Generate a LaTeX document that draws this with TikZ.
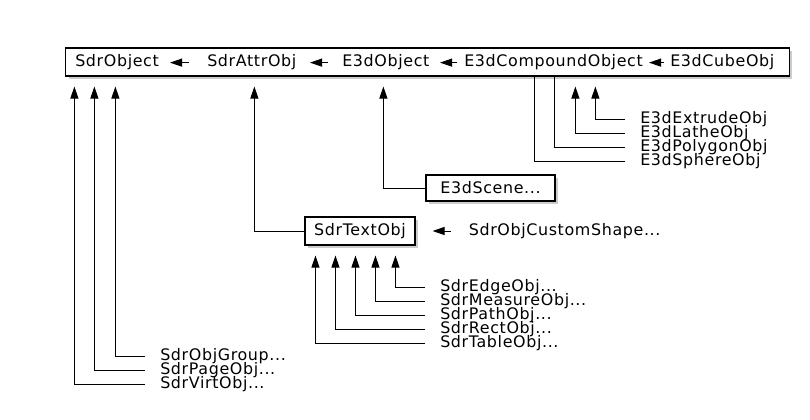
\documentclass[tikz,border=0pt]{standalone}
\usepackage{fontspec}
\setmainfont{DejaVu Sans}[LetterSpace=4]
\usetikzlibrary{arrows.meta,positioning,calc,shadows}

\begin{document}
\begin{tikzpicture}[
  x=0.025cm, y=-0.025cm,
  font=\fontsize{11.3}{13}\selectfont,
  classbox/.style={rectangle, draw=black, line width=0.75pt, fill=white, inner sep=0pt, drop shadow={shadow xshift=0.07cm, shadow yshift=-0.07cm, fill=black!40, opacity=0.5}},
  cname/.style={anchor=base west, inner sep=0pt},
  leaf/.style={anchor=west, inner xsep=0.375cm, inner ysep=0pt},
  inherit/.style={-{Triangle[length=0.3cm, width=0.2cm]}, line width=0.7pt, shorten >=0.25cm},
  lefttip/.style={-{Triangle[length=0.3cm, width=0.2cm]}, line width=0.7pt},
  link/.style={line width=0.7pt}
]
\useasboundingbox (0,0) rectangle (810,420);

\node[classbox, minimum width=18.075cm, minimum height=0.7cm] (topbar) at (427.5,62) {};
\node[cname] (sdrobj) at (75,67) {SdrObject};
\node[cname] (attr) at (207,67) {SdrAttrObj};
\node[cname] (e3dobj) at (342,67) {E3dObject};
\node[cname] (compound) at (464,67) {E3dCompoundObject};
\node[cname] (cube) at (670,67) {E3dCubeObj};
\draw[lefttip] ($(attr.west)+(-18,0)$) -- ($(attr.west)+(-37,0)$);
\draw[lefttip] ($(e3dobj.west)+(-14,0)$) -- ($(e3dobj.west)+(-32,0)$);
\draw[lefttip] ($(compound.west)+(-7,0)$) -- ($(compound.west)+(-24,0)$);
\draw[lefttip] ($(cube.west)+(-6,0)$) -- ($(cube.west)+(-21,0)$);

\node[leaf] (extrude) at (625,119) {E3dExtrudeObj};
\node[leaf] (lathe) at (625,133) {E3dLatheObj};
\node[leaf] (polygon) at (625,147) {E3dPolygonObj};
\node[leaf] (sphere) at (625,161) {E3dSphereObj};
\draw[inherit] (extrude.west) -| ($(topbar.south west)+(530,0)$);
\draw[inherit] (lathe.west) -| ($(topbar.south west)+(510,0)$);
\draw[link] (polygon.west) -| ($(topbar.south west)+(489,0)$);
\draw[link] (sphere.west) -| ($(topbar.south west)+(469,0)$);

\node[classbox, minimum width=3.225cm, minimum height=0.65cm] (scene) at (490.5,188) {E3dScene...};
\draw[inherit] (scene.west) -| ($(topbar.south west)+(318,0)$);

\node[classbox, minimum width=2.75cm, minimum height=0.7cm] (textobj) at (360,231) {SdrTextObj};
\node[anchor=west, inner sep=0pt, right=1.325cm of textobj.east] (custom) {SdrObjCustomShape...};
\draw[inherit] (textobj.west) -| ($(topbar.south west)+(189,0)$);
\draw[lefttip, shorten <=0.45cm, shorten >=0.425cm] (custom.west) -- (textobj.east);

\node[leaf] (edge) at (425,287) {SdrEdgeObj...};
\node[leaf] (measure) at (425,301) {SdrMeasureObj...};
\node[leaf] (path) at (425,315) {SdrPathObj...};
\node[leaf] (rect) at (425,329) {SdrRectObj...};
\node[leaf] (table) at (425,343) {SdrTableObj...};
\draw[inherit] (edge.west) -| ($(textobj.south west)+(91,0)$);
\draw[inherit] (measure.west) -| ($(textobj.south west)+(71,0)$);
\draw[inherit] (path.west) -| ($(textobj.south west)+(51,0)$);
\draw[inherit] (rect.west) -| ($(textobj.south west)+(31,0)$);
\draw[inherit] (table.west) -| ($(textobj.south west)+(11,0)$);

\node[leaf] (group) at (145,356) {SdrObjGroup...};
\node[leaf] (page) at (145,370) {SdrPageObj...};
\node[leaf] (virt) at (145,384) {SdrVirtObj...};
\draw[inherit] (group.west) -| ($(topbar.south west)+(50,0)$);
\draw[inherit] (page.west) -| ($(topbar.south west)+(29,0)$);
\draw[inherit] (virt.west) -| ($(topbar.south west)+(9,0)$);
\end{tikzpicture}
\end{document}
